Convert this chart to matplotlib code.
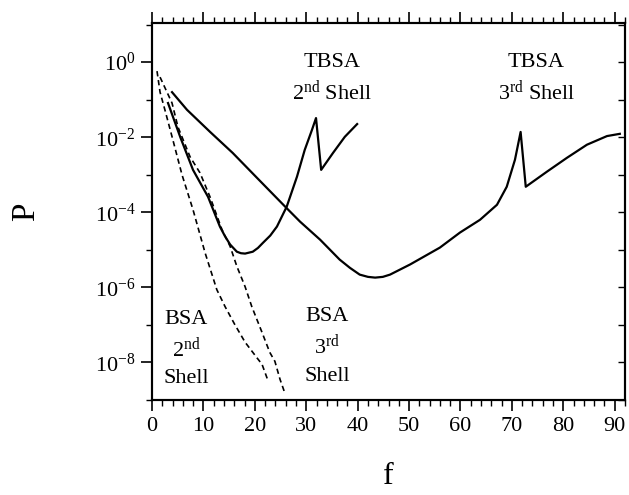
import numpy as np
import matplotlib
matplotlib.use("Agg")
import matplotlib.pyplot as plt
from matplotlib.ticker import FixedLocator, FuncFormatter, MultipleLocator

plt.rcParams['font.family'] = ['Liberation Serif', 'DejaVu Serif']
plt.rcParams['mathtext.fontset'] = 'custom'
plt.rcParams['mathtext.rm'] = 'Liberation Serif'
plt.rcParams['mathtext.it'] = 'Liberation Serif:italic'

# values: f and log10(P)
bsa2_f = [0.97, 1.56, 2.5, 3.9, 5.83, 7.97, 10.3, 12.6, 14.2, 16.1, 18.1, 20.6, 21.4, 22.6]
bsa2_logp = [-0.24, -0.80, -1.27, -1.99, -3.00, -3.93, -5.07, -6.06, -6.51, -6.99, -7.46, -7.91, -8.05, -8.50]

bsa3_f = [1.56, 3.89, 5.05, 7.39, 9.33, 11.28, 13.6, 15.2, 16.5, 18.1, 19.4, 21.4, 22.9, 23.9, 24.9, 25.9]
bsa3_logp = [-0.40, -1.09, -1.73, -2.52, -2.95, -3.59, -4.46, -4.91, -5.44, -5.98, -6.51, -7.20, -7.73,
             -7.97, -8.45, -8.84]

tbsa2_f = [3.11, 5.5, 7.97, 10.9, 13.2, 14.2, 15.2, 16.5, 17.3, 18.1, 19.6, 20.6, 21.6, 23.0, 24.3, 26.2,
           28.2, 29.7, 31.1, 31.9, 32.9, 35.2, 37.5, 39.9]
tbsa2_logp = [-1.09, -2.00, -2.87, -3.59, -4.38, -4.64, -4.86, -5.05, -5.09, -5.10, -5.05, -4.95, -4.81,
              -4.62, -4.38, -3.85, -3.05, -2.34, -1.81, -1.49, -2.87, -2.42, -1.99, -1.65]

tbsa3_f = [3.89, 6.8, 11.3, 15.7, 20.4, 25.9, 28.8, 32.7, 36.5, 38.5, 40.4, 42.0, 43.4, 44.9, 46.3, 50.2,
           56.0, 59.9, 63.8, 67.1, 69.0, 70.6, 71.7, 72.7, 76.8, 80.7, 84.6, 88.5, 91.0]
tbsa3_logp = [-0.80, -1.27, -1.86, -2.42, -3.08, -3.85, -4.25, -4.73, -5.26, -5.48, -5.66, -5.72, -5.74,
              -5.72, -5.66, -5.39, -4.94, -4.54, -4.20, -3.80, -3.32, -2.60, -1.86, -3.32, -2.92, -2.55,
              -2.20, -1.97, -1.91]

fig = plt.figure(figsize=(6.29, 4.95), dpi=100)
ax = fig.add_axes([0.2417, 0.1919, 0.7519, 0.7616])

dash = (0, (3.2, 2.2))
ax.plot(bsa2_f, 10 ** np.array(bsa2_logp), color='black', lw=1.2, linestyle=dash)
ax.plot(bsa3_f, 10 ** np.array(bsa3_logp), color='black', lw=1.2, linestyle=dash)
ax.plot(tbsa2_f, 10 ** np.array(tbsa2_logp), color='black', lw=1.6)
ax.plot(tbsa3_f, 10 ** np.array(tbsa3_logp), color='black', lw=1.6)

ax.set_yscale('log')
ax.set_xlim(0, 92)
ax.set_ylim(1e-9, 1.1e1)

ax.xaxis.set_major_locator(MultipleLocator(10))
ax.xaxis.set_minor_locator(MultipleLocator(2))
ax.tick_params(axis='x', which='both', direction='out', top=True, bottom=True, labelsize=16, pad=4)
ax.tick_params(axis='x', which='major', length=8, width=1.2)
ax.tick_params(axis='x', which='minor', length=4, width=1.0)

ax.yaxis.set_major_locator(FixedLocator([1e0, 1e-2, 1e-4, 1e-6, 1e-8]))
ax.yaxis.set_minor_locator(FixedLocator([1e1, 1e-1, 1e-3, 1e-5, 1e-7, 1e-9]))
ax.yaxis.set_major_formatter(FuncFormatter(lambda v, pos: r"$\mathregular{10^{%d}}$" % round(np.log10(v))))
ax.yaxis.set_minor_formatter(FuncFormatter(lambda v, pos: ""))
ax.tick_params(axis='y', which='both', direction='out', left=True, right=False, labelsize=16, pad=4)
ax.tick_params(axis='y', which='major', length=8, width=1.2)
ax.tick_params(axis='y', which='minor', length=4, width=1.0)

# right side ticks point inwards
ax2 = ax.twinx()
ax2.set_yscale('log')
ax2.set_ylim(ax.get_ylim())
ax2.yaxis.set_major_locator(FixedLocator([1e0, 1e-2, 1e-4, 1e-6, 1e-8]))
ax2.yaxis.set_minor_locator(FixedLocator([1e1, 1e-1, 1e-3, 1e-5, 1e-7, 1e-9]))
ax2.tick_params(axis='y', which='both', direction='in', labelright=False, length=5, width=1.0)

for a in (ax, ax2):
    for s in a.spines.values():
        s.set_linewidth(1.5)

ax.set_xlabel("f", fontsize=23)
ax.xaxis.set_label_coords(0.5, -0.165)
ax.set_ylabel("P", fontsize=24)
ax.yaxis.set_label_coords(-0.235, 0.5)

fs = 16
ax.text(35.0, 10 ** -0.133, "TBSA", ha='center', va='baseline', fontsize=fs)
ax.text(35.0, 10 ** -1.009, r"2$^{\mathrm{nd}}$ Shell", ha='center', va='baseline', fontsize=fs)
ax.text(74.8, 10 ** -0.133, "TBSA", ha='center', va='baseline', fontsize=fs)
ax.text(74.8, 10 ** -1.009, r"3$^{\mathrm{rd}}$ Shell", ha='center', va='baseline', fontsize=fs)

ax.text(6.6, 10 ** -6.985, "BSA", ha='center', va='baseline', fontsize=fs)
ax.text(6.6, 10 ** -7.86, r"2$^{\mathrm{nd}}$", ha='center', va='baseline', fontsize=fs)
ax.text(6.6, 10 ** -8.55, "Shell", ha='center', va='baseline', fontsize=fs)
ax.text(34.0, 10 ** -6.906, "BSA", ha='center', va='baseline', fontsize=fs)
ax.text(34.0, 10 ** -7.78, r"3$^{\mathrm{rd}}$", ha='center', va='baseline', fontsize=fs)
ax.text(34.0, 10 ** -8.50, "Shell", ha='center', va='baseline', fontsize=fs)

fig.savefig("out.png", dpi=100)
